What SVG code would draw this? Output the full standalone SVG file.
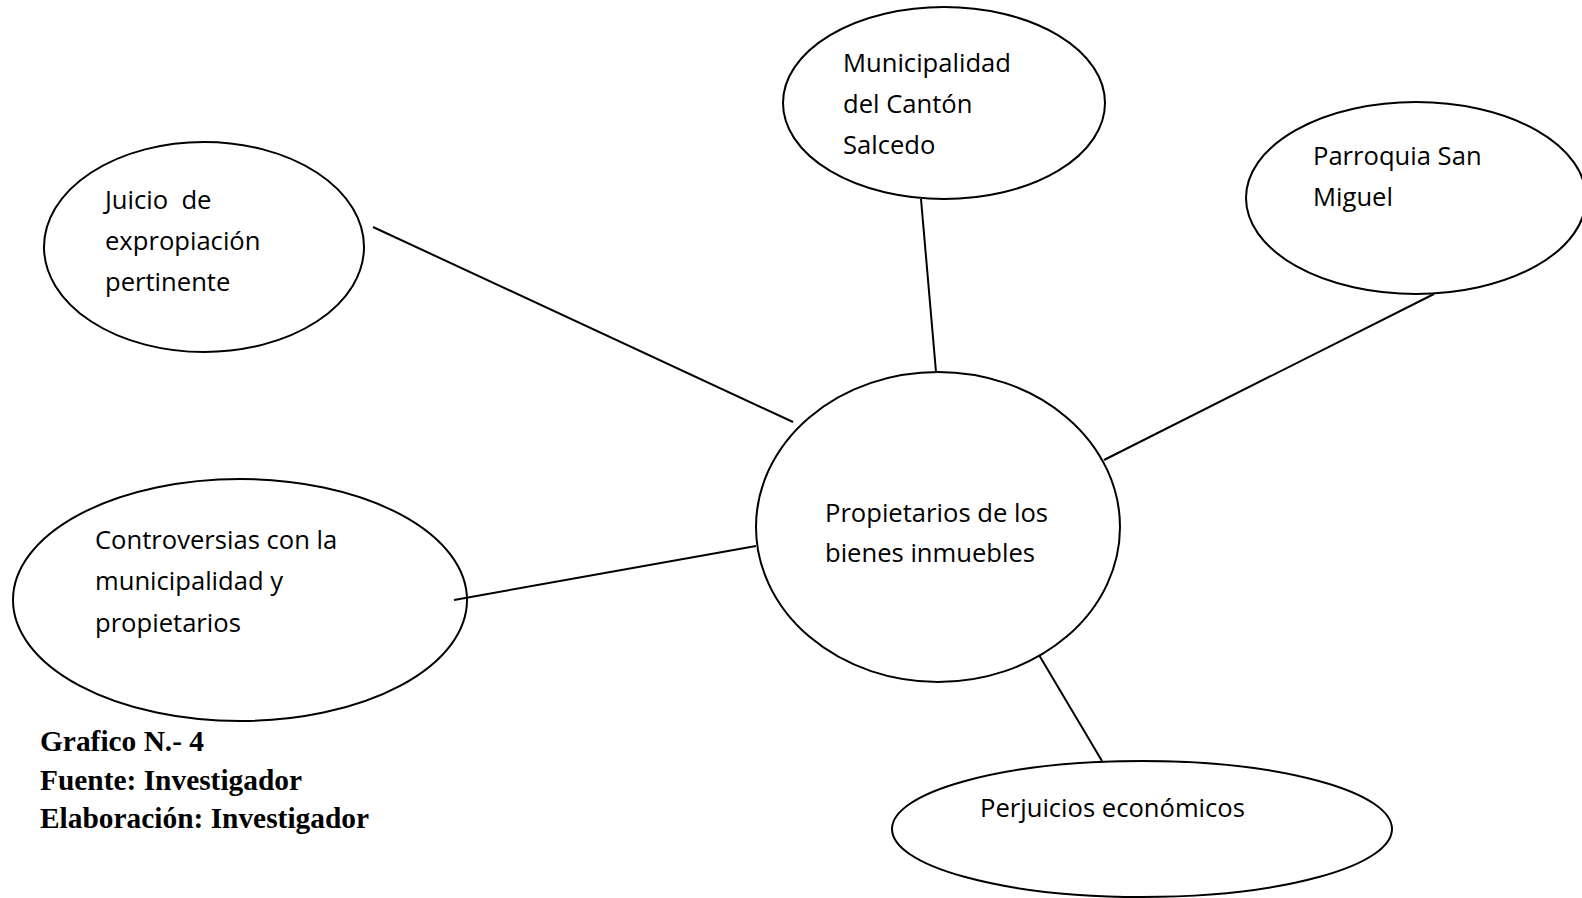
<svg xmlns="http://www.w3.org/2000/svg" width="1582" height="898" viewBox="0 0 1582 898">
<style>
.node ellipse{fill:none;stroke:#000;stroke-width:2}
.lbl{font-family:"Open Sans","Noto Sans",sans-serif;font-size:25.6px;fill:#000}
.cap{font-family:"Liberation Serif","Times New Roman",serif;font-size:29.4px;font-weight:bold;fill:#000}
#connectors line{stroke:#000;stroke-width:2}
</style>
<rect width="1582" height="898" fill="#fff"/>
<g id="connectors">
<line x1="373" y1="227" x2="793" y2="422"/>
<line x1="921" y1="199" x2="936" y2="372"/>
<line x1="1434" y1="294" x2="1104" y2="460"/>
<line x1="454" y1="600" x2="756" y2="546"/>
<line x1="1039" y1="655" x2="1102" y2="761"/>
</g>
<g id="n-municipalidad" class="node">
<ellipse cx="944" cy="103" rx="161" ry="96"/>
<text class="lbl" x="843" y="72">Municipalidad</text>
<text class="lbl" x="843" y="113">del Cantón</text>
<text class="lbl" x="843" y="154">Salcedo</text>
</g>
<g id="n-parroquia" class="node">
<ellipse cx="1416" cy="198" rx="170" ry="96"/>
<text class="lbl" x="1313" y="165">Parroquia San</text>
<text class="lbl" x="1313" y="206">Miguel</text>
</g>
<g id="n-juicio" class="node">
<ellipse cx="204" cy="247" rx="160" ry="105"/>
<text class="lbl" x="105" y="209" xml:space="preserve">Juicio  de</text>
<text class="lbl" x="105" y="250">expropiación</text>
<text class="lbl" x="105" y="291">pertinente</text>
</g>
<g id="n-controversias" class="node">
<ellipse cx="240" cy="600" rx="227" ry="121"/>
<text class="lbl" x="95" y="549">Controversias con la</text>
<text class="lbl" x="95" y="590">municipalidad y</text>
<text class="lbl" x="95" y="632">propietarios</text>
</g>
<g id="n-propietarios" class="node">
<ellipse cx="938" cy="527" rx="182" ry="155"/>
<text class="lbl" x="825" y="522">Propietarios de los</text>
<text class="lbl" x="825" y="562">bienes inmuebles</text>
</g>
<g id="n-perjuicios" class="node">
<ellipse cx="1142" cy="829" rx="250" ry="68"/>
<text class="lbl" x="980" y="817">Perjuicios económicos</text>
</g>
<g id="caption">
<text class="cap" x="40" y="751">Grafico N.- 4</text>
<text class="cap" x="40" y="790">Fuente: Investigador</text>
<text class="cap" x="40" y="828">Elaboración: Investigador</text>
</g>
</svg>
